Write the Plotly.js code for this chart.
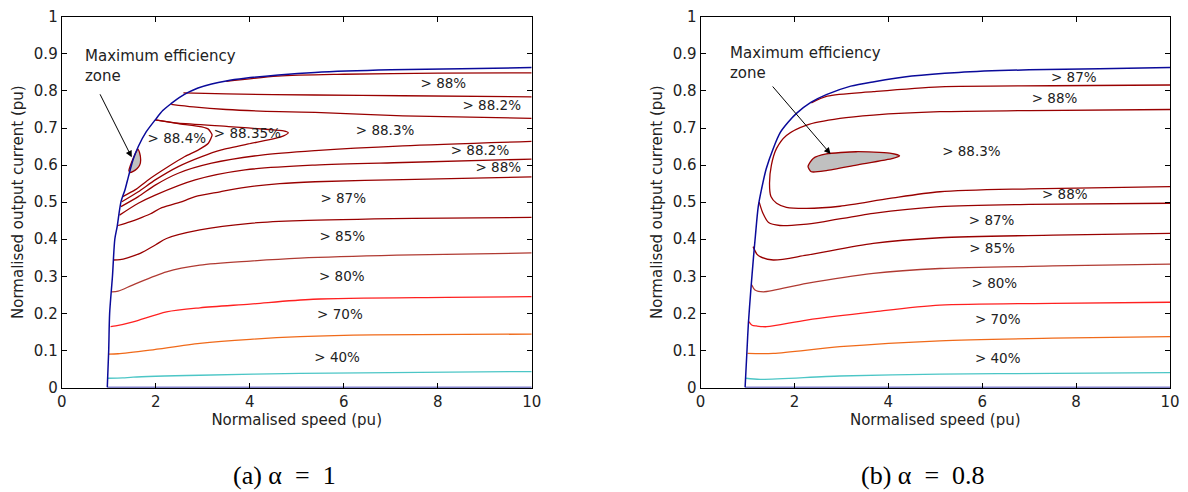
<!DOCTYPE html>
<html>
<head>
<meta charset="utf-8">
<script src="https://cdn.plot.ly/plotly-3.0.1.min.js"></script>
<style>html,body{margin:0;padding:0;background:#fff;}#chart{width:1188px;height:492px;}</style>
</head>
<body>
<div id="chart"></div>
<script>
// ---------- tick labels ----------
const xTickVals = [0, 2, 4, 6, 8, 10];
const xTickText = ['0', '2', '4', '6', '8', '10'];
const yTickVals = [0, 0.1, 0.2, 0.3, 0.4, 0.5, 0.6, 0.7, 0.8, 0.9, 1];
const yTickText = ['0', '0.1', '0.2', '0.3', '0.4', '0.5', '0.6', '0.7', '0.8', '0.9', '1'];

// ---------- (a) alpha = 1 ----------
const boundAX = [0.97, 1.0, 1.02, 1.08, 1.13, 1.18, 1.26, 1.35, 1.42, 1.52, 1.63, 1.80, 1.99, 2.15, 2.34, 2.5, 2.69, 2.9, 3.19, 3.5, 3.90, 4.61, 5.39, 7.0, 8.5, 10];
const boundAY = [0, 0.1, 0.2, 0.3, 0.4, 0.434, 0.50, 0.535, 0.569, 0.615, 0.650, 0.690, 0.722, 0.747, 0.767, 0.782, 0.796, 0.808, 0.819, 0.827, 0.834, 0.843, 0.850, 0.857, 0.860, 0.863];

const a88upX = [3.5, 4.6, 6, 8, 10];
const a88upY = [0.826, 0.840, 0.845, 0.848, 0.849];
const a882upX = [2.59, 3.5, 5.39, 7.26, 10];
const a882upY = [0.795, 0.792, 0.789, 0.787, 0.784];
const a883upX = [2.33, 2.8, 3.5, 4.64, 5.39, 7.26, 10];
const a883upY = [0.764, 0.757, 0.750, 0.744, 0.742, 0.733, 0.726];
const a8835X = [1.99, 2.48, 3.55, 4.40, 4.72, 4.82, 4.72, 4.54, 3.97, 3.40, 2.98, 2.48, 1.99, 1.63, 1.28];
const a8835Y = [0.722, 0.713, 0.704, 0.696, 0.692, 0.687, 0.679, 0.672, 0.657, 0.641, 0.623, 0.596, 0.560, 0.528, 0.501];
const a884X = [1.99, 2.48, 2.98, 3.12, 3.20, 3.12, 2.91, 2.62, 2.27, 1.84, 1.56, 1.30];
const a884Y = [0.722, 0.712, 0.703, 0.697, 0.681, 0.659, 0.641, 0.623, 0.596, 0.560, 0.533, 0.515];
const a883loX = [1.26, 1.63, 1.99, 2.48, 3.19, 4.25, 5.39, 7.26, 10];
const a883loY = [0.488, 0.515, 0.546, 0.578, 0.605, 0.627, 0.639, 0.652, 0.664];
const a882loX = [1.23, 1.63, 1.99, 2.84, 3.90, 5.39, 7.26, 10];
const a882loY = [0.465, 0.497, 0.519, 0.560, 0.587, 0.600, 0.607, 0.616];
const a88loX = [1.20, 1.45, 1.63, 1.88, 2.13, 2.59, 2.84, 3.37, 3.9, 4.64, 5.39, 7.26, 10];
const a88loY = [0.437, 0.447, 0.455, 0.468, 0.485, 0.503, 0.515, 0.528, 0.540, 0.550, 0.555, 0.561, 0.568];
const a87X = [1.10, 1.24, 1.4, 1.67, 2.0, 2.23, 2.94, 4.01, 5.07, 7.48, 10];
const a87Y = [0.344, 0.345, 0.350, 0.362, 0.385, 0.402, 0.425, 0.443, 0.450, 0.456, 0.459];
const a85X = [1.07, 1.2, 1.52, 2.23, 2.94, 4.01, 5.07, 7.13, 10];
const a85Y = [0.258, 0.260, 0.277, 0.312, 0.330, 0.341, 0.349, 0.357, 0.363];
const a80X = [1.04, 1.15, 1.52, 2.23, 2.94, 4.01, 5.35, 8.19, 10];
const a80Y = [0.164, 0.166, 0.177, 0.204, 0.215, 0.225, 0.238, 0.243, 0.245];
const a70X = [1.0, 1.2, 1.88, 2.94, 4.01, 5.07, 6.63, 10];
const a70Y = [0.090, 0.091, 0.101, 0.119, 0.130, 0.137, 0.142, 0.144];
const a40X = [0.98, 1.3, 1.52, 2.94, 5.07, 7.62, 10];
const a40Y = [0.025, 0.026, 0.028, 0.033, 0.038, 0.041, 0.043];
const aZoneX = [1.43, 1.50, 1.57, 1.62, 1.66, 1.68, 1.66, 1.60, 1.52, 1.46, 1.43];
const aZoneY = [0.585, 0.612, 0.632, 0.643, 0.632, 0.614, 0.600, 0.590, 0.583, 0.580, 0.585];

const aLabX = [8.12, 9.15, 6.88, 8.90, 9.29, 5.99, 5.97, 5.96, 5.92, 5.86, 2.45, 3.95];
const aLabY = [0.816, 0.757, 0.690, 0.636, 0.591, 0.506, 0.404, 0.297, 0.194, 0.079, 0.668, 0.681];
const aLabT = ['> 88%', '> 88.2%', '> 88.3%', '> 88.2%', '> 88%', '> 87%', '> 85%', '> 80%', '> 70%', '> 40%', '> 88.4%', '> 88.35%'];

// ---------- (b) alpha = 0.8 ----------
const boundBX = [0.95, 0.99, 1.02, 1.07, 1.13, 1.17, 1.23, 1.30, 1.40, 1.55, 1.70, 1.87, 2.05, 2.35, 2.68, 3.2, 3.7, 4.5, 5.5, 7, 8.5, 10];
const boundBY = [0, 0.1, 0.173, 0.26, 0.353, 0.41, 0.488, 0.535, 0.59, 0.645, 0.688, 0.716, 0.740, 0.769, 0.790, 0.813, 0.825, 0.840, 0.850, 0.857, 0.860, 0.863];

const b88upX = [2.36, 2.7, 3.68, 5.1, 7.5, 10];
const b88upY = [0.768, 0.786, 0.798, 0.811, 0.814, 0.816];
const b883X = [10, 7, 5.1, 3.68, 2.97, 2.26, 1.83, 1.62, 1.51, 1.47, 1.50, 1.62, 1.83, 2.26, 2.97, 4.03, 5.1, 7, 10];
const b883Y = [0.750, 0.747, 0.744, 0.735, 0.726, 0.708, 0.680, 0.645, 0.600, 0.550, 0.515, 0.497, 0.486, 0.483, 0.489, 0.510, 0.528, 0.536, 0.542];
const b88loX = [1.25, 1.33, 1.45, 1.69, 2.2, 2.61, 3.68, 5.1, 7, 10];
const b88loY = [0.500, 0.470, 0.445, 0.437, 0.440, 0.447, 0.470, 0.488, 0.494, 0.497];
const b87X = [1.12, 1.2, 1.27, 1.55, 2.26, 3.68, 5.1, 7.51, 10];
const b87Y = [0.380, 0.360, 0.353, 0.344, 0.357, 0.389, 0.404, 0.411, 0.416];
const b85X = [1.09, 1.16, 1.34, 2.26, 3.68, 5.1, 7.5, 10];
const b85Y = [0.277, 0.263, 0.258, 0.281, 0.308, 0.321, 0.328, 0.333];
const b80X = [1.03, 1.1, 1.19, 1.41, 2.26, 3.68, 5.1, 7.5, 10];
const b80Y = [0.178, 0.168, 0.166, 0.164, 0.182, 0.204, 0.222, 0.227, 0.230];
const b70X = [1.0, 1.55, 2.97, 5.1, 7.5, 10];
const b70Y = [0.092, 0.092, 0.110, 0.126, 0.133, 0.137];
const b40X = [0.97, 1.27, 2.97, 5.1, 7.5, 10];
const b40Y = [0.025, 0.022, 0.031, 0.036, 0.038, 0.040];
const bZoneX = [2.29, 2.40, 2.68, 3.32, 4.03, 4.24, 4.10, 3.32, 2.68, 2.36, 2.29];
const bZoneY = [0.596, 0.618, 0.630, 0.636, 0.632, 0.625, 0.618, 0.600, 0.585, 0.582, 0.596];

const bLabX = [7.95, 7.54, 5.77, 7.76, 6.2, 6.21, 6.26, 6.33, 6.33];
const bLabY = [0.832, 0.777, 0.633, 0.517, 0.447, 0.373, 0.278, 0.180, 0.074];
const bLabT = ['> 87%', '> 88%', '> 88.3%', '> 88%', '> 87%', '> 85%', '> 80%', '> 70%', '> 40%'];

const captions = ['(a) α\u2002=\u20021', '(b) α\u2002=\u20020.8'];

// ---------- styling ----------
const C_HI = '#990000', C85 = '#b03a32', C80 = '#ff2020', C70 = '#f06a1a', C40 = '#4cc6c6', C_BND = '#0a0a9a';
const FONT = 'DejaVu Sans, Arial, sans-serif';

function line(x, y, color, xa, ya, w, sm) {
  return {x: x, y: y, type: 'scatter', mode: 'lines', xaxis: xa, yaxis: ya,
          line: {color: color, width: w || 1.3, shape: 'spline', smoothing: sm === undefined ? 0.8 : sm},
          hoverinfo: 'skip', showlegend: false};
}
function zone(x, y, xa, ya) {
  return {x: x, y: y, type: 'scatter', mode: 'lines', fill: 'toself', fillcolor: '#c0c0c0',
          xaxis: xa, yaxis: ya, line: {color: C_HI, width: 1.3, shape: 'spline', smoothing: 0.6},
          hoverinfo: 'skip', showlegend: false};
}
function labels(x, y, t, xa, ya) {
  return {x: x, y: y, text: t, type: 'scatter', mode: 'text', xaxis: xa, yaxis: ya,
          textfont: {family: FONT, size: 13.5, color: '#222'}, hoverinfo: 'skip', showlegend: false};
}

const traces = [
  line(a40X, a40Y, C40, 'x', 'y'), line(a70X, a70Y, C70, 'x', 'y'), line(a80X, a80Y, C80, 'x', 'y'),
  line(a85X, a85Y, C85, 'x', 'y'), line(a87X, a87Y, C_HI, 'x', 'y'),
  line(a88loX, a88loY, C_HI, 'x', 'y'), line(a882loX, a882loY, C_HI, 'x', 'y'), line(a883loX, a883loY, C_HI, 'x', 'y'),
  line(a8835X, a8835Y, C_HI, 'x', 'y', 1.3, 0.5), line(a884X, a884Y, C_HI, 'x', 'y', 1.3, 0.5),
  line(a883upX, a883upY, C_HI, 'x', 'y'), line(a882upX, a882upY, C_HI, 'x', 'y'), line(a88upX, a88upY, C_HI, 'x', 'y'),
  zone(aZoneX, aZoneY, 'x', 'y'),
  line(boundAX, boundAY, C_BND, 'x', 'y', 1.5),
  line([boundAX[0], 10], [0, 0], C_BND, 'x', 'y', 1.5),
  labels(aLabX, aLabY, aLabT, 'x', 'y'),

  line(b40X, b40Y, C40, 'x2', 'y2'), line(b70X, b70Y, C70, 'x2', 'y2'), line(b80X, b80Y, C80, 'x2', 'y2'),
  line(b85X, b85Y, C85, 'x2', 'y2'), line(b87X, b87Y, C_HI, 'x2', 'y2'),
  line(b88loX, b88loY, C_HI, 'x2', 'y2'), line(b883X, b883Y, C_HI, 'x2', 'y2'), line(b88upX, b88upY, C_HI, 'x2', 'y2'),
  zone(bZoneX, bZoneY, 'x2', 'y2'),
  line(boundBX, boundBY, C_BND, 'x2', 'y2', 1.5),
  line([boundBX[0], 10], [0, 0], C_BND, 'x2', 'y2', 1.5),
  labels(bLabX, bLabY, bLabT, 'x2', 'y2')
];

function xax(domain, anchor) {
  return {domain: domain, anchor: anchor, range: [0, 10], tickmode: 'array', tickvals: xTickVals, ticktext: xTickText,
          ticks: 'inside', ticklen: 5, tickcolor: '#000', showline: true, linecolor: '#000', linewidth: 1, mirror: 'ticks',
          showgrid: false, zeroline: false, tickfont: {family: FONT, size: 15, color: '#222'},
          title: {text: 'Normalised speed (pu)', font: {family: FONT, size: 15, color: '#222'}, standoff: 4}};
}
function yax(domain, anchor) {
  return {domain: domain, anchor: anchor, range: [0, 1], tickmode: 'array', tickvals: yTickVals, ticktext: yTickText,
          ticks: 'inside', ticklen: 5, tickcolor: '#000', showline: true, linecolor: '#000', linewidth: 1, mirror: 'ticks',
          showgrid: false, zeroline: false, tickfont: {family: FONT, size: 15, color: '#222'},
          title: {text: 'Normalised output current (pu)', font: {family: FONT, size: 15, color: '#222'}, standoff: 6}};
}
const yDom = [1 - 387.5 / 492, 1 - 16.8 / 492];

const annFont = {family: FONT, size: 15, color: '#222'};
const capFont = {family: 'Liberation Serif, Times New Roman, serif', size: 26, color: '#000'};
const layout = {
  width: 1188, height: 492, margin: {l: 0, r: 0, t: 0, b: 0},
  paper_bgcolor: '#fff', plot_bgcolor: '#fff', showlegend: false,
  xaxis: xax([61.7 / 1188, 531.7 / 1188], 'y'),
  yaxis: yax(yDom, 'x'),
  xaxis2: xax([700.5 / 1188, 1170 / 1188], 'y2'),
  yaxis2: yax(yDom, 'x2'),
  annotations: [
    {xref: 'x', yref: 'y', x: 0.447, y: 0.867, text: 'Maximum efficiency<br>zone', showarrow: false,
     xanchor: 'left', yanchor: 'middle', align: 'left', font: annFont},
    {xref: 'x', yref: 'y', axref: 'x', ayref: 'y', x: 1.49, y: 0.621, ax: 0.80, ay: 0.795, text: '',
     showarrow: true, arrowhead: 2, arrowsize: 1.3, arrowwidth: 1, arrowcolor: '#000', standoff: 0},
    {xref: 'x2', yref: 'y2', x: 0.59, y: 0.875, text: 'Maximum efficiency<br>zone', showarrow: false,
     xanchor: 'left', yanchor: 'middle', align: 'left', font: annFont},
    {xref: 'x2', yref: 'y2', axref: 'x2', ayref: 'y2', x: 2.77, y: 0.630, ax: 1.51, ay: 0.816, text: '',
     showarrow: true, arrowhead: 2, arrowsize: 1.3, arrowwidth: 1, arrowcolor: '#000', standoff: 0},
    {xref: 'paper', yref: 'paper', x: 284 / 1188, y: 0.002, text: captions[0], showarrow: false,
     xanchor: 'center', yanchor: 'bottom', borderpad: 0, font: capFont},
    {xref: 'paper', yref: 'paper', x: 923 / 1188, y: 0.002, text: captions[1], showarrow: false,
     xanchor: 'center', yanchor: 'bottom', borderpad: 0, font: capFont}
  ]
};

Plotly.newPlot('chart', traces, layout, {staticPlot: true, displayModeBar: false});
</script>
</body>
</html>
